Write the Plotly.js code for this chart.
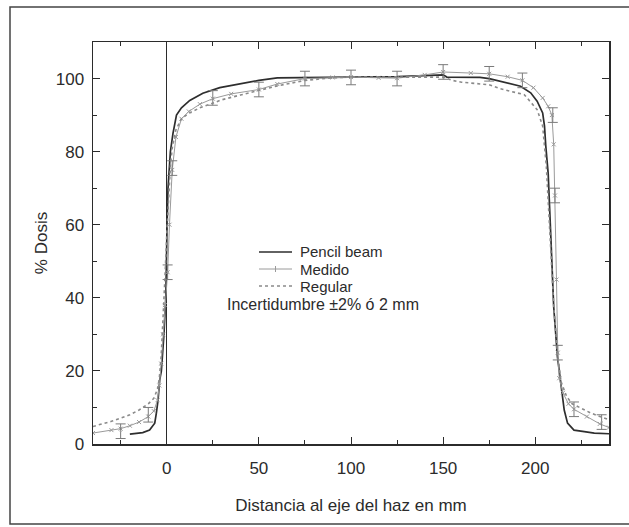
<!DOCTYPE html>
<html>
<head>
<meta charset="utf-8">
<script src="https://cdn.plot.ly/plotly-3.0.1.min.js"></script>
<style>
  html, body { margin: 0; padding: 0; background: #ffffff; }
  #chart { width: 629px; height: 527px; }
</style>
</head>
<body>
<div id="chart"></div>
<script>
// ---- Data ----
const pencilX = [-20, -13, -9.3, -6.5, -5.6, -4.7, -3.8, -2.9, -1.5, -0.5, 0.2, 0.7, 2, 3.4, 5.3, 8, 12.5, 19.6, 28.8, 39.7, 50, 60, 75, 100, 125, 140, 150, 152, 170, 175, 181, 192, 197.5, 201, 204, 205, 205.7, 207, 208.5, 210, 212, 213, 214.8, 215.7, 217.5, 221, 226.6, 232, 240];
const pencilY = [2.7, 3.1, 3.8, 5.7, 8.5, 12, 17.5, 20, 30, 40, 60, 70, 80, 85, 90, 92, 94, 96, 97.5, 98.5, 99.5, 100.2, 100.3, 100.3, 100.5, 100.8, 101, 100.4, 100.3, 100, 99.3, 97.9, 96.1, 93.8, 90.6, 87, 81.5, 74, 56, 37.5, 24, 20, 13, 9.3, 5.7, 3.8, 3.4, 3.0, 2.8];

const medidoX = [-40, -30, -25, -20, -15, -10, -7, -5, -4, -3, -2, -1, 0.5, 1.5, 3, 5, 8, 12, 18, 25, 35, 50, 60, 75, 90, 100, 115, 125, 140, 150, 165, 175, 185, 193, 199, 204, 207, 209, 210, 210.7, 211.5, 212.2, 213, 215, 218, 221, 228, 235, 240];
const medidoY = [3, 3.8, 4.2, 5, 6, 7.5, 9, 12, 16, 22, 30, 38, 47, 60, 75, 84, 89, 91, 93, 94.5, 95.8, 97, 98.5, 100, 100.3, 100.4, 100.2, 100.1, 101, 101.8, 101.5, 101.3, 100.5, 99.5, 97.5, 94.7, 92.4, 90, 82, 68, 45, 25, 18, 14, 11, 9.5, 7.5, 5.5, 4.5];

const medErrX = [-25, -10, 0.5, 3, 25, 50, 75, 100, 125, 150, 175, 193, 209.5, 210.7, 212.2, 221, 236];
const medErrY = [3.5, 8, 47, 75.5, 94.7, 97, 100, 100.3, 100, 101.8, 101.3, 99.5, 90, 68, 25, 9.5, 6];
const medErr = 2;

const regularX = [-40, -30, -20, -15, -10, -7, -5, -4, -3, -2, -1, 0, 1, 2, 3, 5, 8, 12, 18, 25, 30, 40, 50, 60, 75, 90, 100, 125, 150, 155, 160, 175, 181, 194, 201, 204, 206, 208, 210, 212, 214, 217, 220, 230, 240];
const regularY = [4.8, 6.2, 8, 9.3, 11, 12.5, 15, 18, 24, 33, 45, 57, 68, 76, 81, 86, 89, 90.5, 92, 93.3, 94.2, 95.5, 96.7, 98, 99.5, 100.2, 100.4, 100.5, 100.4, 99.5, 99, 98.3, 97.2, 95.6, 91.5, 87, 76, 57, 38, 25, 17, 13, 11, 8.5, 6.6];

const legendLabels = ["Pencil beam", "Medido", "Regular"];
const noteText = "Incertidumbre ±2% ó 2 mm";
const xTitle = "Distancia al eje del haz en mm";
const yTitle = "% Dosis";

// ---- Styling ----
const FONT = "Liberation Sans, Arial, Helvetica, sans-serif";
const INK = "#2b2b2b";
const cPencil = "#2e2e2e";
const cMedido = "#9a9a9a";
const cRegular = "#8a8a8a";

const traces = [
  { x: pencilX, y: pencilY, mode: "lines", name: legendLabels[0],
    line: { color: cPencil, width: 1.7 }, showlegend: false },
  { x: medidoX, y: medidoY, mode: "lines+markers", name: legendLabels[1],
    line: { color: cMedido, width: 1 },
    marker: { symbol: "x-thin-open", size: 4, color: cMedido, line: { width: 1, color: cMedido } },
    showlegend: false },
  { x: medErrX, y: medErrY, mode: "markers", name: legendLabels[1] + " error",
    marker: { size: 2, color: cMedido },
    error_y: { type: "constant", value: medErr, width: 5, thickness: 1, color: "#7a7a7a" },
    showlegend: false },
  { x: regularX, y: regularY, mode: "lines", name: legendLabels[2],
    line: { color: cRegular, width: 1.6, dash: "dot" }, showlegend: false }
];

// pixel -> paper helpers for decorations (plot area 93..609 x, 42..444 y)
const L = 93, R = 609, T = 42, B = 444;
const px = v => (v - L) / (R - L);
const py = v => (B - v) / (B - T);

const legendRows = [252, 269, 286];
const shapes = [
  // outer figure frame
  { type: "rect", xref: "paper", yref: "paper", x0: px(10), x1: px(660), y0: py(524), y1: py(7),
    line: { color: "#444", width: 1.5 }, layer: "below" },
  // legend samples
  { type: "line", xref: "paper", yref: "paper", x0: px(259), x1: px(292), y0: py(legendRows[0]), y1: py(legendRows[0]),
    line: { color: cPencil, width: 1.7 } },
  { type: "line", xref: "paper", yref: "paper", x0: px(259), x1: px(292), y0: py(legendRows[1]), y1: py(legendRows[1]),
    line: { color: cMedido, width: 1 } },
  { type: "line", xref: "paper", yref: "paper", x0: px(275.5), x1: px(275.5), y0: py(legendRows[1] - 3), y1: py(legendRows[1] + 3),
    line: { color: cMedido, width: 1 } },
  { type: "line", xref: "paper", yref: "paper", x0: px(259), x1: px(292), y0: py(legendRows[2]), y1: py(legendRows[2]),
    line: { color: cRegular, width: 1.6, dash: "dot" } }
];

const annotations = legendLabels.map((t, i) => ({
  text: t, xref: "paper", yref: "paper", x: px(299), y: py(legendRows[i]),
  xanchor: "left", yanchor: "middle", showarrow: false, borderpad: 0,
  font: { family: FONT, size: 15, color: INK }
}));
annotations.push({
  text: noteText, xref: "paper", yref: "paper", x: px(226), y: py(304),
  xanchor: "left", yanchor: "middle", showarrow: false, borderpad: 0,
  font: { family: FONT, size: 16, color: INK }
});

const axisCommon = {
  ticks: "inside", ticklen: 7, tickwidth: 1, tickcolor: INK,
  mirror: "ticks", showline: true, linecolor: INK, linewidth: 1.5,
  showgrid: false,
  tickfont: { family: FONT, size: 17, color: INK }
};

const layout = {
  width: 629, height: 527,
  margin: { l: 93, r: 20, t: 42, b: 83, pad: 0 },
  paper_bgcolor: "#ffffff", plot_bgcolor: "#ffffff",
  showlegend: false,
  xaxis: Object.assign({}, axisCommon, {
    range: [-40, 240], tick0: 0, dtick: 50,
    zeroline: true, zerolinecolor: INK, zerolinewidth: 1.2,
    ticklabelstandoff: 8,
    minor: { dtick: 25, tick0: 0, ticks: "inside", ticklen: 4, tickcolor: INK, showgrid: false },
    title: { text: xTitle, font: { family: FONT, size: 17, color: INK }, standoff: 22 }
  }),
  yaxis: Object.assign({}, axisCommon, {
    range: [0, 110], tick0: 0, dtick: 20, zeroline: false,
    ticklabelstandoff: 4,
    minor: { dtick: 10, tick0: 0, ticks: "inside", ticklen: 4, tickcolor: INK, showgrid: false },
    title: { text: yTitle, font: { family: FONT, size: 17, color: INK }, standoff: 4 }
  }),
  shapes: shapes,
  annotations: annotations
};

Plotly.newPlot("chart", traces, layout, { displayModeBar: false, staticPlot: true });
</script>
</body>
</html>
